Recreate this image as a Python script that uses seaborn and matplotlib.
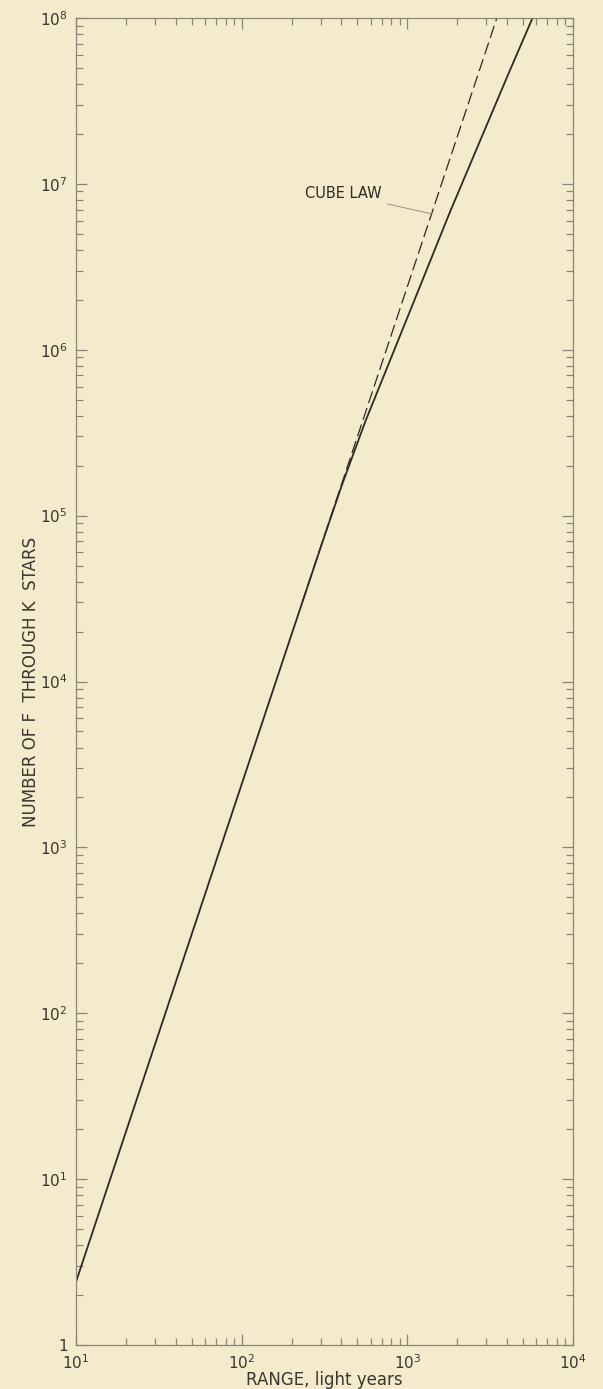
import numpy as np
import pandas as pd
import matplotlib
matplotlib.use("Agg")
import matplotlib.pyplot as plt
import seaborn as sns
from matplotlib.ticker import FixedLocator, LogLocator, NullFormatter

range_ly = [10, 30, 100, 200, 300, 400, 558, 800, 1200, 1790, 2800, 4110, 5700]
n_stars = [2.4, 65, 2400, 1.92e4, 6.45e4, 1.5e5, 3.7e5, 9.0e5, 2.45e6, 6.6e6, 1.9e7, 4.7e7, 1.0e8]

# cube law extrapolation (dashed)
cube_range = [232, 500, 1000, 2000, 3470]
cube_stars = [3.0e4, 3.0e5, 2.4e6, 1.92e7, 1.0e8]

x_ticks = [10, 100, 1000, 10000]
x_labels = ["$10^{1}$", "$10^{2}$", "$10^{3}$", "$10^{4}$"]
y_ticks = [1, 10, 1e2, 1e3, 1e4, 1e5, 1e6, 1e7, 1e8]
y_labels = ["1", "$10^{1}$", "$10^{2}$", "$10^{3}$", "$10^{4}$",
            "$10^{5}$", "$10^{6}$", "$10^{7}$", "$10^{8}$"]

bg = "#f3ebcc"
ink = "#2e2a24"
axis_col = "#8c8676"
text_col = "#3a3630"

sns.set_theme(style="ticks")
plt.rcParams["font.family"] = ["DejaVu Sans"]
plt.rcParams["mathtext.fontset"] = "dejavusans"

fig = plt.figure(figsize=(6.03, 13.89), dpi=100)
fig.patch.set_facecolor(bg)
ax = fig.add_axes([76 / 603, 1 - 1345 / 1389, (573 - 76) / 603, (1345 - 18) / 1389])
ax.set_facecolor(bg)

obs = pd.DataFrame({"range": range_ly, "n": n_stars})
cube = pd.DataFrame({"range": cube_range, "n": cube_stars})

sns.lineplot(data=cube, x="range", y="n", ax=ax, color=ink, lw=0.9,
             ls=(0, (10, 4)), estimator=None, sort=False)
sns.lineplot(data=obs, x="range", y="n", ax=ax, color=ink, lw=1.3,
             estimator=None, sort=False)

ax.set_xscale("log")
ax.set_yscale("log")
ax.set_xlim(10, 1e4)
ax.set_ylim(1, 1e8)

ax.xaxis.set_major_locator(FixedLocator(x_ticks))
ax.set_xticklabels(x_labels)
ax.yaxis.set_major_locator(FixedLocator(y_ticks))
ax.set_yticklabels(y_labels)
ax.xaxis.set_minor_locator(LogLocator(base=10, subs=np.arange(2, 10), numticks=20))
ax.yaxis.set_minor_locator(LogLocator(base=10, subs=np.arange(2, 10), numticks=20))
ax.xaxis.set_minor_formatter(NullFormatter())
ax.yaxis.set_minor_formatter(NullFormatter())

ax.tick_params(which="both", direction="in", top=True, right=True,
               color=axis_col, width=0.9, labelsize=11, labelcolor=text_col)
ax.tick_params(which="major", length=8, pad=6)
ax.tick_params(which="minor", length=5)
for sp in ax.spines.values():
    sp.set_color(axis_col)
    sp.set_linewidth(0.9)

ax.set_xlabel("RANGE, light years", fontsize=12, color=text_col, labelpad=-1)
ax.set_ylabel("NUMBER OF F  THROUGH K  STARS", fontsize=12, color=text_col, labelpad=0)

ax.annotate("CUBE LAW", xy=(1396, 6.6e6), xytext=(240, 8.7e6),
            fontsize=10.5, color=ink, va="center", ha="left",
            arrowprops=dict(arrowstyle="-", color="#9a9486", lw=0.7,
                            shrinkA=2, shrinkB=0))

fig.savefig("out.png", dpi=100, facecolor=bg)
